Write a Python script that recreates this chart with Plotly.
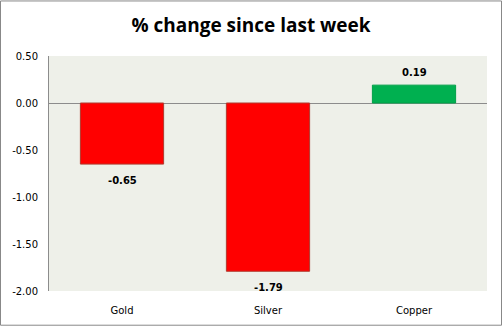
import plotly.graph_objects as go

categories = ["Gold", "Silver", "Copper"]
values = [-0.65, -1.79, 0.19]
colors = ["#FF0000", "#FF0000", "#00B050"]
line_colors = ["#B03A2E", "#B03A2E", "#00A048"]
tick_vals = [0.5, 0.0, -0.5, -1.0, -1.5, -2.0]
tick_text = ["0.50", "0.00", "-0.50", "-1.00", "-1.50", "-2.00"]

W, H = 502, 328
ml, mr, mt, mb = 49, 15, 56, 35
pw, ph = W - ml - mr, H - mt - mb

fig = go.Figure(go.Bar(
    x=categories, y=values,
    marker=dict(color=colors, line=dict(color=line_colors, width=1)),
    width=0.57,
))

annotations = []
for c, v in zip(categories, values):
    annotations.append(dict(
        x=c, y=v, xref="x", yref="y", text=f"<b>{v:.2f}</b>", showarrow=False,
        yanchor="bottom" if v >= 0 else "top",
        yshift=5 if v >= 0 else -9,
        font=dict(family="DejaVu Sans", size=10, color="#000000"),
    ))

fig.update_layout(
    width=W, height=H,
    margin=dict(l=ml, r=mr, t=mt, b=mb),
    paper_bgcolor="white",
    plot_bgcolor="#EEF0E9",
    showlegend=False,
    annotations=annotations,
    title=dict(text="<b>% change since last week</b>", x=0.5, xanchor="center",
               y=1 - 25 / H, yanchor="middle",
               font=dict(family="Open Sans", size=19, color="#000000")),
    xaxis=dict(showgrid=False, showline=False, ticks="", ticklabelstandoff=12,
               tickfont=dict(family="DejaVu Sans", size=10, color="#000000")),
    yaxis=dict(range=[-2.0, 0.5], tickvals=tick_vals, ticktext=tick_text,
               showgrid=False, zeroline=True, zerolinecolor="#8C8C8C", zerolinewidth=1,
               showline=True, linecolor="#8C8C8C", linewidth=1, ticks="",
               ticklabelstandoff=8,
               tickfont=dict(family="DejaVu Sans", size=10, color="#000000")),
    shapes=[dict(type="rect", xref="paper", yref="paper",
                 x0=-(ml - 0.5) / pw, x1=1 + (mr - 0.5) / pw,
                 y0=-(mb - 0.5) / ph, y1=1 + (mt - 0.5) / ph,
                 line=dict(color="#888888", width=1))],
)

fig.write_html("out.html")
